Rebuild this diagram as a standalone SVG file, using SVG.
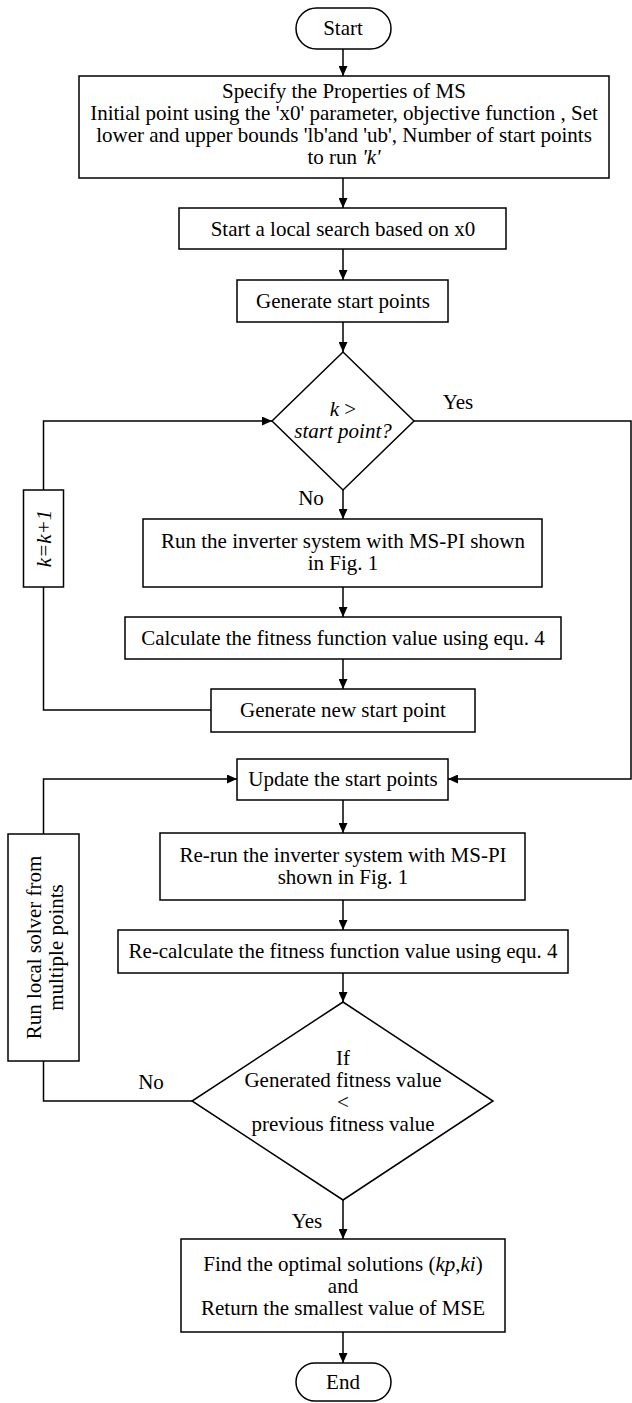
<svg xmlns="http://www.w3.org/2000/svg" width="632" height="1403" viewBox="0 0 632 1403">
<style>
text{font-family:"Liberation Serif","Times New Roman",serif;font-size:21px;fill:#000;text-anchor:middle}
.it{font-style:italic}
.box{fill:#fff;stroke:#000;stroke-width:1.5}
.ln{fill:none;stroke:#000;stroke-width:1.5}
</style>
<defs>
<marker id="ah" markerUnits="userSpaceOnUse" markerWidth="10" markerHeight="9" refX="10" refY="4.5" orient="auto">
<path d="M0,0 L10,4.5 L0,9 z" fill="#000"/>
</marker>
</defs>
<rect width="632" height="1403" fill="#fff"/>
<g id="connectors">
<line class="ln" x1="343" y1="49" x2="343" y2="76" marker-end="url(#ah)"/>
<line class="ln" x1="343" y1="178" x2="343" y2="208" marker-end="url(#ah)"/>
<line class="ln" x1="343" y1="249" x2="343" y2="280" marker-end="url(#ah)"/>
<line class="ln" x1="343" y1="322" x2="343" y2="352" marker-end="url(#ah)"/>
<line class="ln" x1="343" y1="490" x2="343" y2="519" marker-end="url(#ah)"/>
<line class="ln" x1="343" y1="587" x2="343" y2="617" marker-end="url(#ah)"/>
<line class="ln" x1="343" y1="659" x2="343" y2="689" marker-end="url(#ah)"/>
<polyline class="ln" points="211,710 43.5,710 43.5,587"/>
<polyline class="ln" points="43.5,490 43.5,421 272,421" marker-end="url(#ah)"/>
<polyline class="ln" points="414,421 631,421 631,779 448,779" marker-end="url(#ah)"/>
<polyline class="ln" points="43.5,834 43.5,779 237,779" marker-end="url(#ah)"/>
<line class="ln" x1="343" y1="800" x2="343" y2="833" marker-end="url(#ah)"/>
<line class="ln" x1="343" y1="900" x2="343" y2="930" marker-end="url(#ah)"/>
<line class="ln" x1="343" y1="973" x2="343" y2="1002" marker-end="url(#ah)"/>
<polyline class="ln" points="192,1101 43.5,1101 43.5,1061"/>
<line class="ln" x1="343" y1="1200" x2="343" y2="1239" marker-end="url(#ah)"/>
<line class="ln" x1="343" y1="1332" x2="343" y2="1363" marker-end="url(#ah)"/>
<text x="458" y="409">Yes</text>
<text x="311" y="505">No</text>
<text x="151" y="1089">No</text>
<text x="307" y="1228">Yes</text>
</g>
<g id="start">
<rect class="box" x="296" y="8" width="95" height="41" rx="20.5"/>
<text x="343" y="35">Start</text>
</g>
<g id="specify">
<rect class="box" x="79" y="76" width="530" height="102"/>
<text x="344" y="98">Specify the Properties of MS</text>
<text x="344" y="120">Initial point using the 'x0' parameter, objective function , Set</text>
<text x="344" y="142">lower and upper bounds 'lb'and 'ub', Number of start points</text>
<text x="344" y="164">to run <tspan class="it">'k'</tspan></text>
</g>
<g id="local-search">
<rect class="box" x="179" y="208" width="327" height="41"/>
<text x="343" y="236">Start a local search based on x0</text>
</g>
<g id="generate">
<rect class="box" x="237" y="280" width="211" height="42"/>
<text x="343" y="308">Generate start points</text>
</g>
<g id="decision1">
<polygon class="box" points="343,352 414,421 343,490 272,421"/>
<text x="343" y="416"><tspan class="it">k</tspan> &gt;</text>
<text x="343" y="438" class="it">start point?</text>
</g>
<g id="run">
<rect class="box" x="143" y="519" width="399" height="68"/>
<text x="343" y="548">Run the inverter system with MS-PI shown</text>
<text x="343" y="570">in Fig. 1</text>
</g>
<g id="calculate">
<rect class="box" x="125" y="617" width="436" height="42"/>
<text x="343" y="645">Calculate the fitness function value using equ. 4</text>
</g>
<g id="generate-new">
<rect class="box" x="211" y="689" width="264" height="43"/>
<text x="343" y="717">Generate new start point</text>
</g>
<g id="increment">
<rect class="box" x="23.5" y="490" width="40" height="97"/>
<text transform="translate(43.5,538.5) rotate(-90)" x="0" y="7" class="it">k=k+1</text>
</g>
<g id="update">
<rect class="box" x="237" y="759" width="211" height="41"/>
<text x="343" y="786">Update the start points</text>
</g>
<g id="rerun">
<rect class="box" x="160" y="833" width="365" height="67"/>
<text x="343" y="862">Re-run the inverter system with MS-PI</text>
<text x="343" y="884">shown in Fig. 1</text>
</g>
<g id="recalculate">
<rect class="box" x="118" y="930" width="450" height="43"/>
<text x="343" y="958">Re-calculate the fitness function value using equ. 4</text>
</g>
<g id="decision2">
<polygon class="box" points="343,1002 493,1101 343,1200 192,1101"/>
<text x="343" y="1065">If</text>
<text x="343" y="1087">Generated fitness value</text>
<text x="343" y="1109">&lt;</text>
<text x="343" y="1131">previous fitness value</text>
</g>
<g id="multi-start">
<rect class="box" x="8" y="834" width="71" height="227"/>
<g transform="translate(43.5,947.5) rotate(-90)">
<text x="0" y="-3">Run local solver from</text>
<text x="0" y="19">multiple points</text>
</g>
</g>
<g id="find">
<rect class="box" x="181" y="1239" width="324" height="93"/>
<text x="343" y="1271">Find the optimal solutions (<tspan class="it">kp</tspan>,<tspan class="it">ki</tspan>)</text>
<text x="343" y="1293">and</text>
<text x="343" y="1315">Return the smallest value of MSE</text>
</g>
<g id="end">
<rect class="box" x="296" y="1363" width="95" height="38" rx="19"/>
<text x="343" y="1389">End</text>
</g>
</svg>
